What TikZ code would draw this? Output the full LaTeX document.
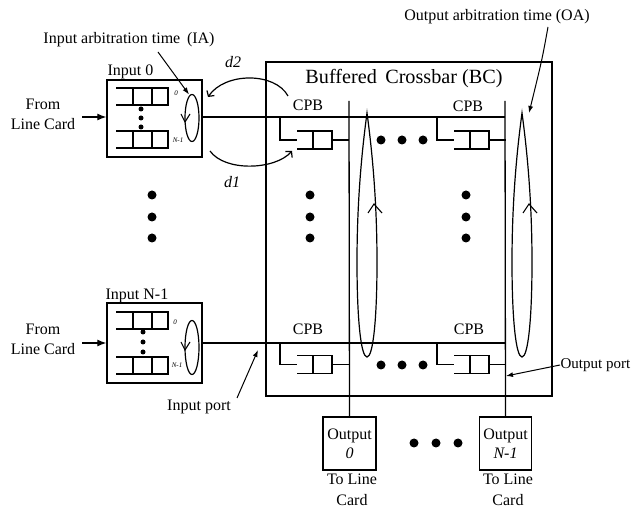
\documentclass[tikz,border=0pt]{standalone}
\usepackage{fontspec}
\setmainfont{Liberation Serif}
\usetikzlibrary{arrows.meta}
\tikzset{
  lbl/.style={font=\fontsize{16}{19}\selectfont, inner sep=0pt},
  ttl/.style={font=\fontsize{20.2}{23}\selectfont, inner sep=0pt},
  tiny/.style={font=\fontsize{7}{8}\selectfont\itshape, inner sep=0pt},
  box/.style={draw, line width=1.4pt, inner sep=0pt},
  bigdot/.style={circle, fill, inner sep=0pt, minimum size=9pt},
  smalldot/.style={circle, fill, inner sep=0pt, minimum size=5pt},
  pointer/.style={-{Latex[length=7pt,width=5pt]}, line width=1pt},
  barb/.style={-{Straight Barb[length=4pt,width=9pt]}, line width=1.2pt},
  inqueue/.pic={\draw (0,0)--(52,0)--(52,17)--(0,17) (17,0)--(17,17) (36,0)--(36,17);},
  cpbqueue/.pic={\draw (0,0)--(35,0)--(35,18)--(0,18) (16,0)--(16,18);},
}
\begin{document}
\begin{tikzpicture}[x=1pt,y=-1pt,line width=1.3pt]
\useasboundingbox (0,0) rectangle (632,510);

% crossbar box and title
\node[box, minimum width=286pt, minimum height=334pt] (bc) at (409,229) {};
\node[ttl] (title) at (404,79) {Buffered\, Crossbar (BC)};

% input boxes
\node[box, minimum width=95pt, minimum height=77pt] (in0) at (154.5,118.5) {};
\node[box, minimum width=95pt, minimum height=80pt] (inN) at (154.5,343) {};
\node[lbl, anchor=west] (in0lbl) at (107,72) {Input 0};
\node[lbl, anchor=west] (inNlbl) at (105,296) {Input N-1};

% queues in input boxes
\pic at (116,88) {inqueue};
\pic at (116,131) {inqueue};
\pic at (116,312) {inqueue};
\pic at (116,357) {inqueue};
\node[smalldot] (q0a) at (141,109) {};
\node[smalldot] (q0b) at (141,118) {};
\node[smalldot] (q0c) at (141,127) {};
\node[smalldot] (qNa) at (143,332) {};
\node[smalldot] (qNb) at (143,342) {};
\node[smalldot] (qNc) at (143,352) {};
\node[tiny] (z0) at (176,93) {0};
\node[tiny] (n0) at (178,140) {N-1};
\node[tiny] (zN) at (175,322) {0};
\node[tiny] (nN) at (177,365) {N-1};

% input arbiters
\draw[line width=1.2pt] (192,118) ellipse [x radius=7, y radius=23.5];
\draw[line width=1.1pt] (181,114)--(185,122)--(190,114);
\draw[line width=1.2pt] (192,347.5) ellipse [x radius=7, y radius=27];
\draw[line width=1.1pt] (181,342)--(185,350)--(190,342);

% from line card
\node[lbl, align=center, font=\fontsize{16}{20}\selectfont] (flc0) at (43,114) {From\\Line Card};
\node[lbl, align=center, font=\fontsize{16}{20}\selectfont] (flcN) at (43,339) {From\\Line Card};
\coordinate (a0) at (82,117);
\coordinate (aN) at (82,343);
\draw[-{Latex[length=9pt,width=7pt]}, line width=1.2pt] (a0) -- (a0 -| in0.west);
\draw[-{Latex[length=9pt,width=7pt]}, line width=1.2pt] (aN) -- (aN -| inN.west);

% output boxes
\node[box, minimum width=53pt, minimum height=53pt, lbl, align=center, font=\fontsize{16}{19}\selectfont] (out0) at (349.5,443.5) {Output\\\textit{0}};
\node[box, minimum width=52pt, minimum height=53pt, lbl, align=center, font=\fontsize{16}{19}\selectfont] (outN) at (505.5,443.5) {Output\\\textit{N-1}};
\node[lbl, align=center, font=\fontsize{16}{21}\selectfont] (tlc0) at (352,490) {To Line\\Card};
\node[lbl, align=center, font=\fontsize{16}{21}\selectfont] (tlcN) at (508,490) {To Line\\Card};
\node[bigdot] (od1) at (414,443) {};
\node[bigdot] (od2) at (436,443) {};
\node[bigdot] (od3) at (458,443) {};

% column (output) lines
\coordinate (c0top) at (349,101);
\coordinate (cNtop) at (505,101);
\draw (c0top) -- (out0.north);
\draw (cNtop) -- (outN.north);

% row (input) lines
\coordinate (r0end) at (505,117);
\coordinate (rNend) at (505,343);
\draw (in0.east |- r0end) -- (r0end);
\draw (inN.east |- rNend) -- (rNend);

% CPBs
\foreach \dx in {0,157}{
  \draw (280+\dx,117) -- (280+\dx,140) -- (297+\dx,140);
  \pic at (297+\dx,131) {cpbqueue};
  \draw (332+\dx,140) -- (349+\dx,140);
  \draw (280+\dx,343) -- (280+\dx,364.5) -- (297+\dx,364.5);
  \pic at (297+\dx,355.5) {cpbqueue};
  \draw (332+\dx,364.5) -- (349+\dx,364.5);
}
\node[lbl] (cpb1) at (308,105) {CPB};
\node[lbl] (cpb2) at (468,106) {CPB};
\node[lbl] (cpb3) at (308,329) {CPB};
\node[lbl] (cpb4) at (469,329) {CPB};

% dots in crossbar
\node[bigdot] (h1) at (381,140) {};
\node[bigdot] (h2) at (402,140) {};
\node[bigdot] (h3) at (423,140) {};
\node[bigdot] (h4) at (381,365) {};
\node[bigdot] (h5) at (402,365) {};
\node[bigdot] (h6) at (423,365) {};
\foreach \x in {152,310,466}{
  \node[bigdot] at (\x,195) {};
  \node[bigdot] at (\x,217) {};
  \node[bigdot] at (\x,238) {};
}

% output arbiters
\foreach \cx in {367,522}{
  \draw[line width=1.2pt] (\cx,113) .. controls (\cx-5,150) and (\cx-10,200) .. (\cx-10,262)
     .. controls (\cx-10,320) and (\cx-6,357) .. (\cx,357)
     .. controls (\cx+6,357) and (\cx+10,320) .. (\cx+10,262)
     .. controls (\cx+10,200) and (\cx+5,150) .. cycle;
  \draw[line width=1.1pt] (\cx+1,213) -- (\cx+7,204) -- (\cx+15,213);
}

% labels with pointers
\node[lbl] (ialbl) at (129,40) {Input arbitration time\, (IA)};
\coordinate (iaS) at (158,52);
\coordinate (iaE) at (189,94.5);
\draw[pointer] (iaS) -- (iaE);

\node[lbl] (oalbl) at (497,17) {Output arbitration time (OA)};
\coordinate (oaS) at (548,27);
\coordinate (oaE) at (529,113);
\draw[pointer] (oaS) .. controls (542,60) .. (oaE);

\node[lbl, anchor=west, font=\fontsize{15}{18}\selectfont] (oplbl) at (560,365) {Output port};
\coordinate (opE) at (506,376);
\draw[pointer] (oplbl.west) -- (opE);

\node[lbl] (iplbl) at (199,407) {Input port};
\coordinate (ipS) at (237,398);
\coordinate (ipE) at (258,350);
\draw[pointer] (ipS) -- (ipE);

% d1 / d2
\node[lbl, font=\fontsize{16}{19}\selectfont\itshape] (d2) at (233,62) {d2};
\node[lbl, font=\fontsize{16}{19}\selectfont\itshape] (d1) at (232,182) {d1};
\coordinate (d2s) at (288,96);
\coordinate (d2e) at (208,97);
\coordinate (d1s) at (210,151);
\coordinate (d1e) at (292,151);
\draw[barb] (d2s) .. controls (275,72) and (225,72) .. (d2e);
\draw[barb] (d1s) .. controls (225,172) and (275,170) .. (d1e);
\end{tikzpicture}
\end{document}
